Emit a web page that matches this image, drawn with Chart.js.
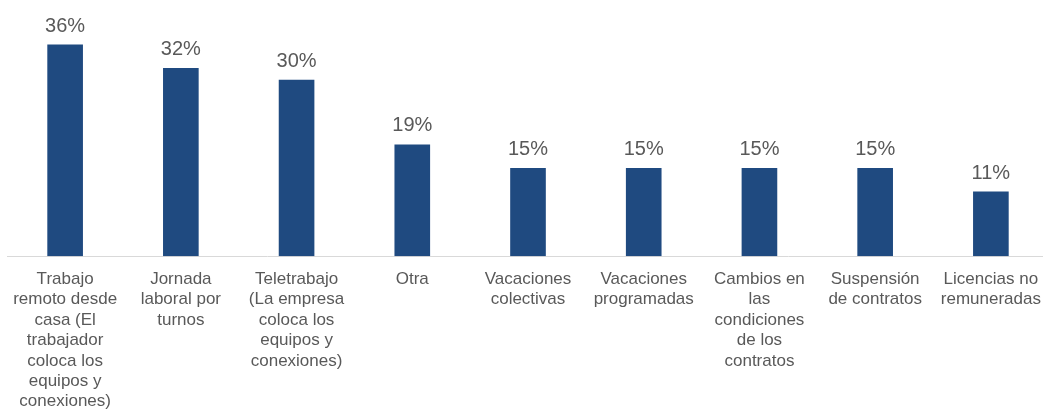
<!DOCTYPE html>
<html>
<head>
<meta charset="utf-8">
<script src="https://cdn.jsdelivr.net/npm/chart.js@4"></script>
<style>
  html, body { margin: 0; padding: 0; background: #ffffff; overflow: hidden; }
  #wrap { position: absolute; left: 0; top: 0; width: 1054px; height: 410px; overflow: hidden; }
</style>
</head>
<body>
<div id="wrap"><canvas id="c" width="1054" height="425"></canvas></div>
<script>
const categories = [
  ["Trabajo", "remoto desde", "casa (El", "trabajador", "coloca los", "equipos y", "conexiones)"],
  ["Jornada", "laboral por", "turnos"],
  ["Teletrabajo", "(La empresa", "coloca los", "equipos y", "conexiones)"],
  ["Otra"],
  ["Vacaciones", "colectivas"],
  ["Vacaciones", "programadas"],
  ["Cambios en", "las", "condiciones", "de los", "contratos"],
  ["Suspensión", "de contratos"],
  ["Licencias no", "remuneradas"]
];
const percentages = [36, 32, 30, 19, 15, 15, 15, 15, 11];

const barColor = '#1f4a80';
const textColor = '#595959';

const valueLabels = {
  id: 'valueLabels',
  afterDatasetsDraw(chart) {
    const ctx = chart.ctx;
    const meta = chart.getDatasetMeta(0);
    ctx.save();
    ctx.font = '20px "Liberation Sans", Arial, sans-serif';
    ctx.fillStyle = textColor;
    ctx.textAlign = 'center';
    ctx.textBaseline = 'alphabetic';
    meta.data.forEach((bar, i) => {
      ctx.fillText(percentages[i] + '%', bar.x, bar.y - 13);
    });
    ctx.restore();
  }
};

new Chart(document.getElementById('c'), {
  type: 'bar',
  data: {
    labels: categories,
    datasets: [{
      data: percentages,
      backgroundColor: barColor,
      borderWidth: 0,
      barPercentage: 0.308,
      categoryPercentage: 1.0
    }]
  },
  options: {
    responsive: false,
    animation: false,
    devicePixelRatio: 1,
    layout: { padding: { left: 6, right: 2, top: 21, bottom: 0 } },
    plugins: {
      legend: { display: false },
      tooltip: { enabled: false },
      title: { display: false }
    },
    scales: {
      x: {
        grid: { display: false, drawTicks: false },
        border: { display: true, color: '#d9d9d9', width: 1 },
        ticks: {
          color: textColor,
          padding: 13,
          maxRotation: 0,
          minRotation: 0,
          autoSkip: false,
          font: { family: '"Liberation Sans", Arial, sans-serif', size: 17, lineHeight: 1.2 }
        }
      },
      y: {
        display: false,
        min: 0,
        max: 40
      }
    }
  },
  plugins: [valueLabels]
});
</script>
</body>
</html>
